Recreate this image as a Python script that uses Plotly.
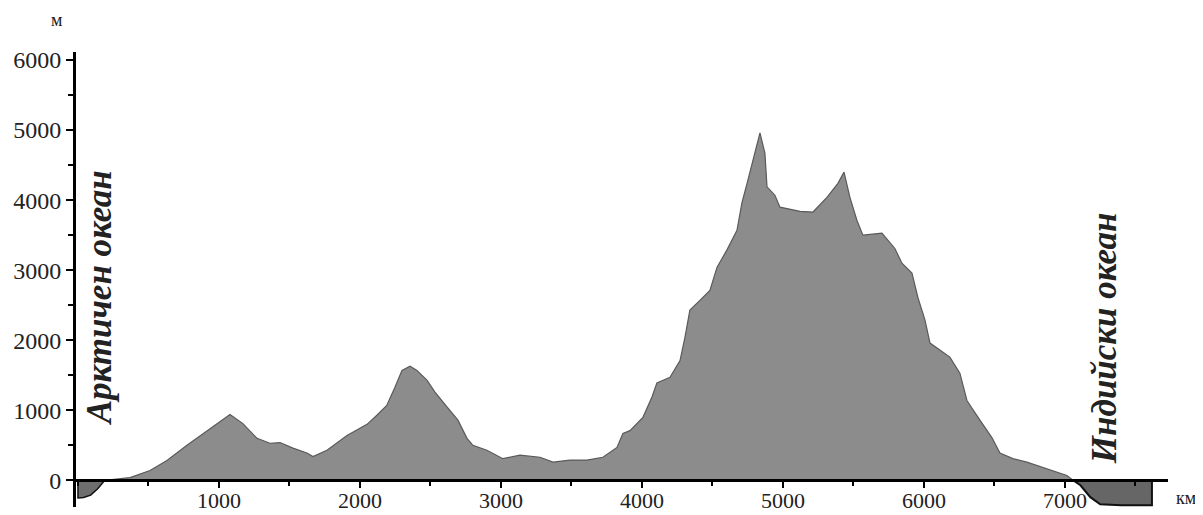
import plotly.graph_objects as go

# профил на релефа (км, м)
land_km = [190, 369, 511, 631, 773, 936, 1078, 1170, 1270, 1362, 1433, 1525, 1624, 1667,
           1766, 1908, 2050, 2120, 2190, 2248, 2298, 2355, 2404, 2475, 2532, 2617, 2695,
           2759, 2801, 2900, 3014, 3135, 3277, 3369, 3489, 3610, 3723, 3823, 3865, 3915,
           4007, 4071, 4106, 4199, 4270, 4305, 4340, 4411, 4482, 4532, 4603, 4674, 4709,
           4752, 4801, 4837, 4872, 4887, 4943, 4979, 5121, 5213, 5312, 5390, 5433, 5475,
           5525, 5567, 5702, 5794, 5844, 5915, 5957, 6007, 6043, 6184, 6255, 6305, 6397,
           6482, 6539, 6631, 6730, 6872, 7014, 7060]
land_m = [0, 40, 140, 285, 500, 740, 940, 810, 600, 530, 540, 460, 390, 340,
          430, 640, 800, 930, 1070, 1330, 1570, 1630, 1570, 1430, 1260, 1050, 860,
          600, 500, 430, 310, 360, 330, 260, 290, 290, 330, 470, 670, 710,
          900, 1190, 1390, 1470, 1710, 2040, 2430, 2570, 2710, 3040, 3290, 3570, 3960,
          4290, 4670, 4960, 4670, 4190, 4070, 3900, 3840, 3830, 4040, 4240, 4400, 4040,
          3710, 3500, 3530, 3310, 3100, 2960, 2610, 2290, 1960, 1760, 1530, 1140, 860,
          610, 390, 310, 260, 170, 70, 0]

arctic_km = [0, 0, 40, 90, 140, 190]
arctic_m = [0, -250, -245, -210, -120, 0]

indian_km = [7060, 7110, 7180, 7250, 7400, 7617, 7617]
indian_m = [0, -70, -240, -340, -355, -355, 0]

x_ticks = [1000, 2000, 3000, 4000, 5000, 6000, 7000]
y_ticks = [0, 1000, 2000, 3000, 4000, 5000, 6000]

serif = "Liberation Serif"

fig = go.Figure()
fig.add_trace(go.Scatter(x=arctic_km, y=arctic_m, fill="toself", fillcolor="#6e6e6e",
                         line=dict(color="#111111", width=1.5), mode="lines", hoverinfo="skip"))
fig.add_trace(go.Scatter(x=indian_km, y=indian_m, fill="toself", fillcolor="#666666",
                         line=dict(color="#111111", width=2), mode="lines", hoverinfo="skip"))
fig.add_trace(go.Scatter(x=land_km, y=land_m, fill="tozeroy", fillcolor="#8c8c8c",
                         line=dict(color="#5a5a5a", width=1.2), mode="lines", hoverinfo="skip"))

fig.add_annotation(x=150, y=2600, text="<b><i>Арктичен океан</i></b>", textangle=-90,
                   showarrow=False, font=dict(family=serif, size=35, color="#222"))
fig.add_annotation(x=7277, y=2030, text="<b><i>Индийски океан</i></b>", textangle=-90,
                   showarrow=False, font=dict(family=serif, size=35, color="#222"))
fig.add_annotation(x=-0.025, y=1.096, xref="paper", yref="paper", text="м", showarrow=False,
                   font=dict(family=serif, size=18, color="#222"))
fig.add_annotation(x=1.0275, y=-0.007, xref="paper", yref="paper", text="км", showarrow=False,
                   font=dict(family=serif, size=18, color="#222"))

# страницата има отстъп 8px, затова фигурата е по-малка
fig.update_layout(
    width=1195, height=507,
    margin=dict(l=68, r=35, t=44, b=8),
    paper_bgcolor="white", plot_bgcolor="white",
    showlegend=False,
    xaxis=dict(range=[-14, 7731], tickvals=x_ticks, ticks="outside", ticklen=6, tickwidth=2,
               tickcolor="black", showline=True, linecolor="black", linewidth=3,
               showgrid=False, zeroline=False, anchor="free", position=0.0593, automargin=False,
               ticklabelstandoff=-6,
               minor=dict(dtick=500, tick0=0, ticks="outside", ticklen=4, tickwidth=2, tickcolor="black"),
               tickfont=dict(family=serif, size=22, color="#222")),
    yaxis=dict(range=[-380, 6114], tickvals=y_ticks, ticks="outside", ticklen=7, tickwidth=2,
               tickcolor="black", showline=True, linecolor="black", linewidth=3,
               showgrid=False, zeroline=False, automargin=False,
               minor=dict(dtick=500, tick0=0, ticks="outside", ticklen=5, tickwidth=2, tickcolor="black"),
               tickfont=dict(family=serif, size=24, color="#222")),
)

fig.write_html("out.html")
